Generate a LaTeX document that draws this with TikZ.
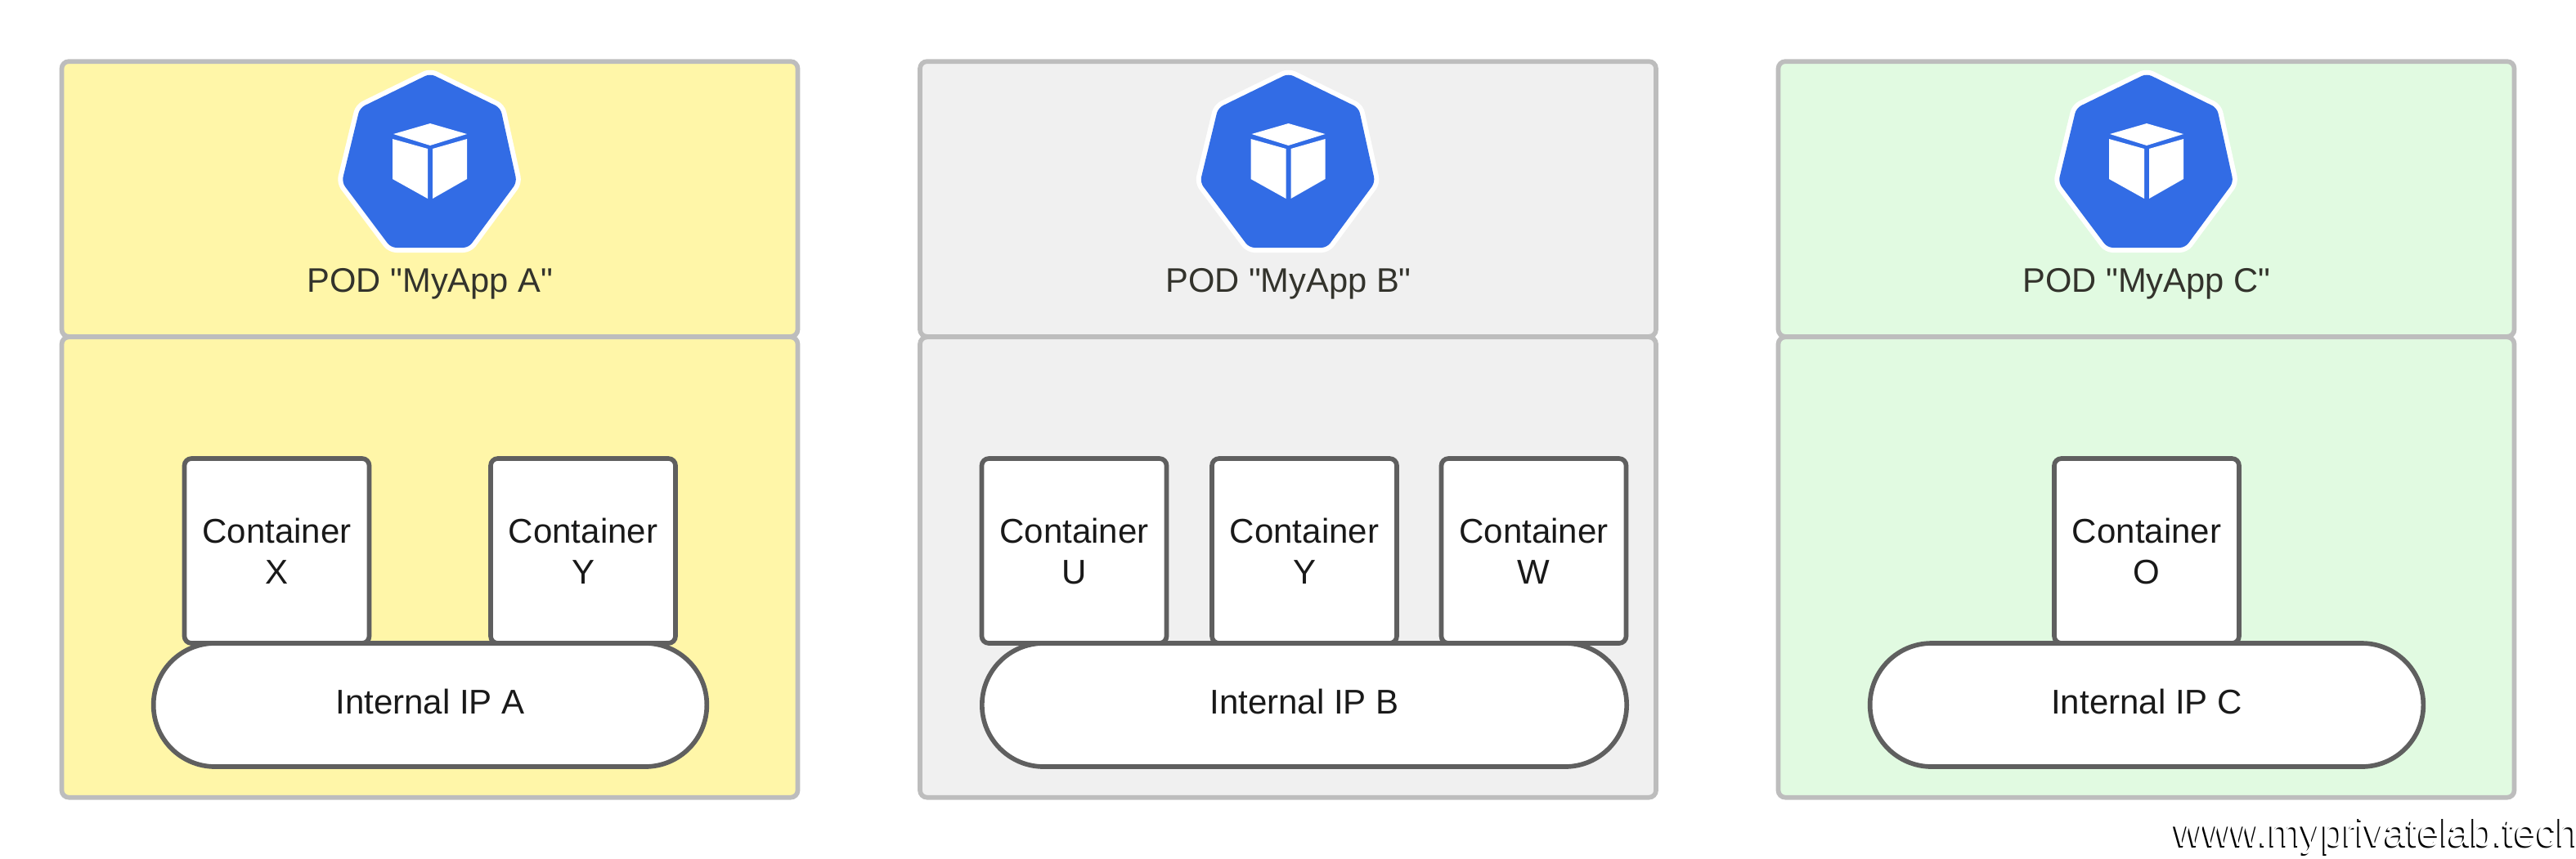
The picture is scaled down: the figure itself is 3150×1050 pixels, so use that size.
\documentclass[tikz,border=0pt]{standalone}
\usepackage{fontspec}
\setmainfont{Liberation Sans}
\newfontfamily\plainquotes{Liberation Sans}
\definecolor{podyellow}{HTML}{FFF6A8}
\definecolor{podgray}{HTML}{F0F0F0}
\definecolor{podgreen}{HTML}{E1FAE1}
\definecolor{panelline}{HTML}{BDBDBD}
\definecolor{boxline}{HTML}{5F5F5F}
\definecolor{kubeblue}{HTML}{326CE5}
\definecolor{labelink}{HTML}{33332C}
\tikzset{
  panel/.style={draw=panelline,line width=1.7pt,rounded corners=2.6pt,inner sep=0pt,outer sep=0pt},
  contbox/.style={draw=boxline,line width=1.7pt,fill=white,rounded corners=2.6pt,minimum width=67.8pt,minimum height=67.8pt,inner sep=0pt,outer sep=0pt,align=center,font=\fontsize{12.6}{15}\selectfont,text=black!90},
  ippill/.style={draw=boxline,line width=1.7pt,fill=white,rounded corners=22.6pt,minimum height=45.3pt,inner sep=0pt,outer sep=0pt,font=\fontsize{12.6}{15}\selectfont,text=black!90},
  podlabel/.style={font=\plainquotes\fontsize{12.5}{15}\selectfont,text=labelink,inner sep=0pt},
  cubeface/.style={fill=white,draw=none},
  hept/.pic={
    \path[fill=white,draw=white,line width=3.6pt,line join=round,rounded corners=2pt]
      (526,90)--(612,132)--(632,223)--(573,303)--(478,303)--(418,223)--(440,132)--cycle;
    \path[fill=kubeblue,rounded corners=2pt]
      (526,90)--(612,132)--(632,223)--(573,303)--(478,303)--(418,223)--(440,132)--cycle;
    \path[cubeface] (526,151)--(571,164)--(526,178)--(481,164)--cycle;
    \path[cubeface] (480,170)--(523,182)--(523,243)--(480,219)--cycle;
    \path[cubeface] (529,182)--(571,170)--(571,219)--(529,243)--cycle;
  }
}
\newcommand{\podpanel}[4]{% name, x offset, colour, label
  \begin{scope}[shift={(#2,0)}]
    \node[panel,fill=#3,minimum width=270pt,minimum height=101pt] (#1top) at (525.5,243.5) {};
    \node[panel,fill=#3,minimum width=270pt,minimum height=169pt] (#1low) at (525.5,694) {};
    \pic {hept};
    \node[podlabel] (#1label) at (526,347) {POD "MyApp #4"};
  \end{scope}}
\begin{document}
\begin{tikzpicture}[x=0.3pt,y=-0.3pt]
\useasboundingbox (0,0) rectangle (3150,1050);
\fill[white] (0,0) rectangle (3150,1050);
\podpanel{a}{0}{podyellow}{A}
\podpanel{b}{1049.5}{podgray}{B}
\podpanel{c}{2099}{podgreen}{C}
% Pod A
\node[contbox] (ax) at (338.5,674) {Container\\X};
\node[contbox] (ay) at (713,674) {Container\\Y};
\node[ippill,minimum width=203pt] (aip) at (526,862.5) {\raisebox{2.6pt}{Internal IP A}};
% Pod B
\node[contbox] (bu) at (1313.5,674) {Container\\U};
\node[contbox] (by) at (1595,674) {Container\\Y};
\node[contbox] (bw) at (1875.5,674) {Container\\W};
\node[ippill,minimum width=236.5pt] (bip) at (1595,862.5) {\raisebox{2.6pt}{Internal IP B}};
% Pod C
\node[contbox] (co) at (2625,674) {Container\\O};
\node[ippill,minimum width=203pt] (cip) at (2625,862.5) {\raisebox{2.6pt}{Internal IP C}};
% Watermark
\node[anchor=east,inner sep=0pt,font=\fontsize{14.5}{17}\selectfont,text=black] (markshadow) at (3152,1025) {www.myprivatelab.tech};
\node[anchor=east,inner sep=0pt,font=\fontsize{14.5}{17}\selectfont,text=white] (mark) at (3154,1023) {www.myprivatelab.tech};
\end{tikzpicture}
\end{document}
